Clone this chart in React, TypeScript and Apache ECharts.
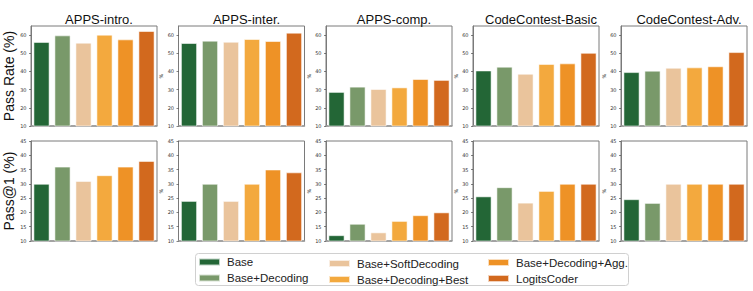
import React, { useEffect, useRef } from "react";
import * as echarts from "echarts";

const methods = [
  "Base",
  "Base+Decoding",
  "Base+SoftDecoding",
  "Base+Decoding+Best",
  "Base+Decoding+Agg.",
  "LogitsCoder",
];
const colors = ["#236636", "#79996a", "#eac49c", "#f3a93e", "#ee9226", "#d2691e"];
const benchmarks = ["APPS-intro.", "APPS-inter.", "APPS-comp.", "CodeContest-Basic", "CodeContest-Adv."];

// Pass Rate (%) per benchmark, in method order
const passRateAppsIntro = [56.2, 59.8, 55.8, 60.2, 57.6, 62.2];
const passRateAppsInter = [55.6, 56.9, 56.3, 57.8, 56.7, 61.3];
const passRateAppsComp = [28.7, 31.6, 30.3, 31.2, 35.8, 35.3];
const passRateCCBasic = [40.5, 42.6, 38.7, 44.1, 44.4, 50.2];
const passRateCCAdv = [39.6, 40.4, 42.0, 42.2, 42.8, 50.6];

// Pass@1 (%) per benchmark, in method order
const pass1AppsIntro = [30, 36, 31, 33, 36, 38];
const pass1AppsInter = [24, 30, 24, 30, 35, 34];
const pass1AppsComp = [12, 16, 13, 17, 19, 20];
const pass1CCBasic = [25.6, 28.8, 23.4, 27.5, 30, 30];
const pass1CCAdv = [24.6, 23.3, 30, 30, 30, 30];

const passRateRows = [passRateAppsIntro, passRateAppsInter, passRateAppsComp, passRateCCBasic, passRateCCAdv];
const pass1Rows = [pass1AppsIntro, pass1AppsInter, pass1AppsComp, pass1CCBasic, pass1CCAdv];

const topYTicks = { min: 10, max: 65, interval: 10 };
const bottomYTicks = { min: 10, max: 45, interval: 5 };

export default function App() {
  const ref = useRef<HTMLDivElement>(null);
  useEffect(() => {
    if (!ref.current) return;
    const chart = echarts.init(ref.current, null, { renderer: "svg" });
    const lefts = [31, 178.5, 326, 473, 621];
    const W = 126;
    const tops = [26, 141];
    const H = 100;
    const grids: any[] = [];
    const xAxes: any[] = [];
    const yAxes: any[] = [];
    const series: any[] = [];
    const titles: any[] = [];
    const rows = [passRateRows, pass1Rows];
    const rowNames = ["Pass Rate (%)", "Pass@1 (%)"];
    const rowTicks = [topYTicks, bottomYTicks];
    let idx = 0;
    for (let r = 0; r < 2; r++) {
      for (let c = 0; c < 5; c++) {
        grids.push({
          left: lefts[c],
          top: tops[r],
          width: W,
          height: H,
          show: true,
          borderColor: "#7a7a7a",
          borderWidth: 1,
          backgroundColor: "transparent",
        });
        xAxes.push({
          type: "category",
          gridIndex: idx,
          data: methods,
          axisLine: { show: true, lineStyle: { color: "#9a9a9a", width: 1.5 } },
          axisTick: { show: false },
          axisLabel: { show: false },
        });
        const t = rowTicks[r];
        yAxes.push({
          type: "value",
          gridIndex: idx,
          min: t.min,
          max: t.max,
          interval: t.interval,
          splitLine: { show: false },
          axisLine: { show: true, lineStyle: { color: "#7a7a7a", width: 1 } },
          axisTick: { show: true, length: 2, lineStyle: { color: "#333", width: 0.6 } },
          axisLabel: {
            fontSize: 5,
            margin: 4.5,
            color: "#333",
            fontFamily: "DejaVu Sans",
            showMaxLabel: r === 1,
          },
          name: c === 0 ? rowNames[r] : "%",
          nameLocation: "middle",
          nameGap: c === 0 ? 8 : 11,
          nameTextStyle:
            c === 0
              ? { fontSize: 14, fontFamily: "Liberation Sans", color: "#111" }
              : { fontSize: 5, fontFamily: "DejaVu Sans", color: "#333" },
        });
        const vals = rows[r][c];
        methods.forEach((m, i) => {
          series.push({
            type: "bar",
            name: m,
            xAxisIndex: idx,
            yAxisIndex: idx,
            barWidth: 16,
            barGap: "-100%",
            itemStyle: { color: colors[i], borderColor: "rgba(255,255,255,0.7)", borderWidth: 0.8 },
            data: methods.map((_, j) => (j === i ? vals[i] : "-")),
          });
        });
        if (r === 0) {
          titles.push({
            text: benchmarks[c],
            left: lefts[c] + W / 2,
            top: 8,
            textAlign: "center",
            textStyle: { fontSize: 13, fontWeight: "normal", fontFamily: "Liberation Sans", color: "#111" },
          });
        }
        idx++;
      }
    }
    const legendBase = {
      orient: "vertical",
      icon: "rect",
      itemWidth: 21,
      itemHeight: 7,
      itemGap: 4,
      padding: 0,
      height: 30,
      selectedMode: false,
      textStyle: { fontSize: 11.5, lineHeight: 11, fontFamily: "Liberation Sans", color: "#222", padding: [0, 0, 0, 2] },
    };
    chart.setOption({
      animation: false,
      title: titles,
      grid: grids,
      xAxis: xAxes,
      yAxis: yAxes,
      series,
      legend: [
        { ...legendBase, data: [methods[0], methods[1]], left: 198, top: 256 },
        { ...legendBase, data: [methods[2], methods[3]], left: 328, top: 257.5 },
        { ...legendBase, data: [methods[4], methods[5]], left: 487, top: 256.5 },
      ],
      graphic: [
        {
          type: "rect",
          shape: { x: 195.5, y: 253.5, width: 433, height: 32, r: 3 },
          style: { fill: "none", stroke: "#d0d0d0", lineWidth: 1 },
          silent: true,
        },
      ],
    });
    return () => chart.dispose();
  }, []);
  return (
    <div
      ref={ref}
      style={{ position: "fixed", left: 0, top: 0, width: 753, height: 291, background: "#fff" }}
    />
  );
}
